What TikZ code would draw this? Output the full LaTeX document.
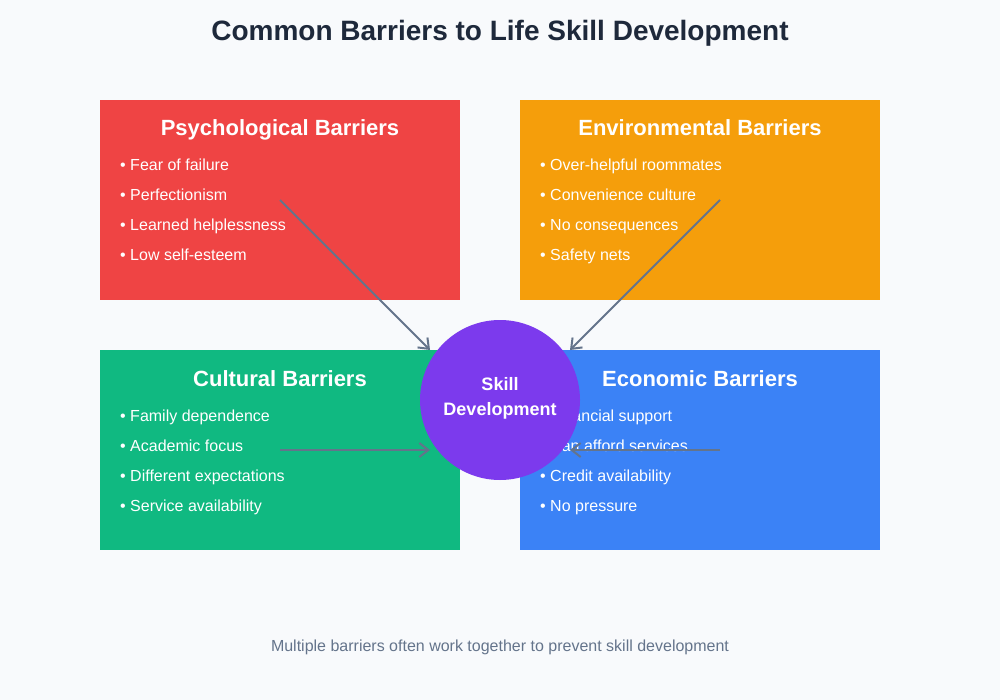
\documentclass[tikz,border=0pt]{standalone}
\usepackage{fontspec}
\setmainfont{Liberation Sans}
\usetikzlibrary{arrows.meta}

\definecolor{pagebg}{HTML}{F8FAFC}
\definecolor{psyred}{HTML}{EF4444}
\definecolor{envorange}{HTML}{F59E0B}
\definecolor{cultgreen}{HTML}{10B981}
\definecolor{econblue}{HTML}{3B82F6}
\definecolor{corepurple}{HTML}{7C3AED}
\definecolor{slate}{HTML}{64748B}
\definecolor{titleink}{HTML}{1E293B}

\begin{document}
\begin{tikzpicture}[x = 1pt, y = -1pt,
	box/.style = {minimum width = 360pt, minimum height = 200pt, inner sep = 0pt},
	heading/.style = {anchor = base, text = white, font = \fontsize{22}{26}\selectfont\bfseries},
	item/.style = {anchor = base west, text = white, inner sep = 0pt, font = \fontsize{16}{19}\selectfont},
	corelabel/.style = {anchor = base, text = white, font = \fontsize{18}{22}\selectfont\bfseries},
	link/.style = {draw = slate, line width = 2pt, -{Straight Barb[length = 9pt, width = 14pt]}}]

\fill[pagebg] (0, 0) rectangle (1000, 700);
\useasboundingbox (0, 0) rectangle (1000, 700);

\node[anchor = base, text = titleink, font = \fontsize{28}{32}\selectfont\bfseries] (title) at (500, 41) {Common Barriers to Life Skill Development};

% the four barrier boxes
\node[box, fill = psyred] (psych) at (280, 200) {};
\node[box, fill = envorange] (env) at (700, 200) {};
\node[box, fill = cultgreen] (cult) at (280, 450) {};
\node[box, fill = econblue] (econ) at (700, 450) {};

\node[heading] (psychhead) at (280, 136) {Psychological Barriers};
\node[heading] (envhead) at (700, 136) {Environmental Barriers};
\node[heading] (culthead) at (280, 386) {Cultural Barriers};
\node[heading] (econhead) at (700, 386) {Economic Barriers};

\foreach \txt [count = \i] in {Fear of failure, Perfectionism, Learned helplessness, Low self-esteem}
	\node[item] (psych\i) at (120, 141 + 30 * \i) {• \txt};
\foreach \txt [count = \i] in {Over-helpful roommates, Convenience culture, No consequences, Safety nets}
	\node[item] (env\i) at (540, 141 + 30 * \i) {• \txt};
\foreach \txt [count = \i] in {Family dependence, Academic focus, Different expectations, Service availability}
	\node[item] (cult\i) at (120, 391 + 30 * \i) {• \txt};
\foreach \txt [count = \i] in {Financial support, Can afford services, Credit availability, No pressure}
	\node[item] (econ\i) at (540, 391 + 30 * \i) {• \txt};

% centre circle
\node[circle, fill = corepurple, minimum size = 160pt, inner sep = 0pt] (core) at (500, 400) {};
\node[corelabel] (coreone) at (500, 390.5) {Skill};
\node[corelabel] (coretwo) at (500, 415.5) {Development};

\coordinate (envtail) at (720, 200);
\coordinate (econtail) at (720, 450);
\coordinate (psychtip) at (430, 350);
\coordinate (envtip) at (570, 350);
\coordinate (culttip) at (430, 450);
\coordinate (econtip) at (570, 450);

\draw[link] (psych.center) -- (psychtip);
\draw[link] (envtail) -- (envtip);
\draw[link] (cult.center) -- (culttip);
\draw[link] (econtail) -- (econtip);

\node[anchor = base, text = slate, font = \fontsize{16}{19}\selectfont] (footer) at (500, 651) {Multiple barriers often work together to prevent skill development};

\end{tikzpicture}
\end{document}
